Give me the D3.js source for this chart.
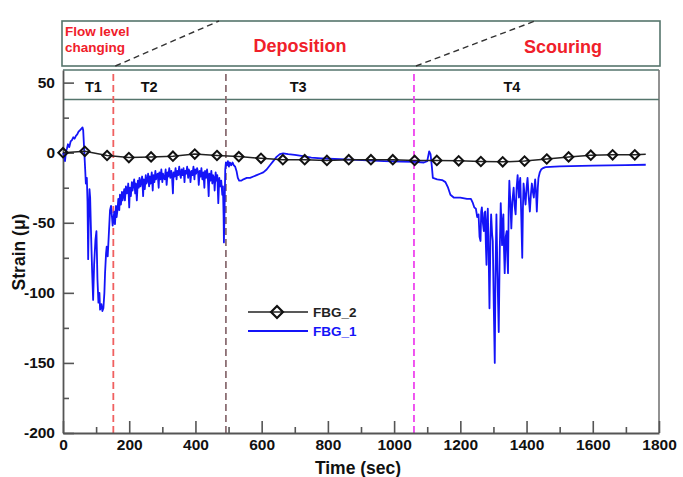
<!DOCTYPE html>
<html>
<head>
<meta charset="utf-8">
<script src="https://cdn.jsdelivr.net/npm/d3@7"></script>
<style>
  body { margin: 0; background: #fff; }
  text { font-family: "Liberation Sans", Arial, sans-serif; font-weight: bold; }
</style>
</head>
<body>
<svg id="chart" width="683" height="477"></svg>
<script>
const svg = d3.select('#chart');

// axis ticks
const xTicks = [0, 200, 400, 600, 800, 1000, 1200, 1400, 1600, 1800];
const xMinor = [100, 300, 500, 700, 900, 1100, 1300, 1500, 1700];
const yTicks = [50, 0, -50, -100, -150, -200];
const yMinor = [25, -25, -75, -125, -175];

// stage boundaries (sec) and labels
const boundaryTimes = [152, 492, 1060];
const boundaryColors = ['#f06060', '#8c6f74', '#ee44ee'];
const periodNames = ['T1', 'T2', 'T3', 'T4'];
const periodAt = [92, 260, 710, 1356];

// FBG_2 (markers)
const fbg2Time = [0, 66, 133, 199, 266, 332, 398, 465, 531, 598, 664, 730, 797, 863, 930,
  996, 1062, 1129, 1195, 1262, 1328, 1394, 1461, 1527, 1594, 1660, 1727, 1760];
const fbg2Strain = [0, 1, -2, -3.5, -3, -2.5, -1, -2, -2.8, -4, -5, -5, -5.5, -5, -5,
  -5, -5.5, -5.5, -5.8, -6.3, -6.5, -6, -4.5, -3, -1.8, -1.5, -1.5, -1.2];

// FBG_1 (continuous signal) [time, strain]
const fbg1 = [
  [0,0],[3,-2],[6,-6],[9,1],[12,3],[15,6],[19,4],[23,8],[27,9],[31,11],[35,10],[39,12],[43,13],
  [47,15],[51,16],[55,17],[59,18],[61,16],[64,2],[67,-12],[69,-22],[72,-18],[74,-35],[76,-76],
  [78,-45],[80,-26],[82,-32],[85,-60],[88,-85],[91,-105],[94,-80],[98,-62],[101,-56],[104,-90],
  [107,-107],[110,-100],[112,-112],[116,-108],[119,-113],[122,-111],[125,-100],[127,-86],[130,-72],
  [132,-67],[135,-74],[138,-60],[142,-41],[145,-38],[148,-46],[150,-52],[152,-48],
  [155,-42],[157,-51],[160,-38],[162,-46],[165,-40],[167,-33],[170,-41],[172,-30],[175,-37],
  [178,-28],[180,-34],[182,-31],[185,-26],[187,-34],[190,-24],[193,-29],[195,-27],[197,-22],
  [200,-39],[202,-25],[205,-31],[208,-21],[210,-27],[212,-24],[215,-19],[218,-29],[220,-22],
  [223,-34],[226,-20],[229,-25],[231,-18],[234,-24],[236,-21],[239,-17],[242,-31],[244,-19],
  [247,-26],[250,-16],[252,-22],[255,-20],[257,-15],[260,-24],[262,-17],[265,-22],[268,-14],
  [271,-27],[273,-16],[276,-21],[279,-13],[281,-19],[283,-16],[286,-15],[289,-25],[291,-14],
  [294,-19],[297,-12],[300,-21],[302,-15],[304,-18],[307,-19],[310,-12],[313,-23],[316,-14],
  [318,-17],[321,-11],[324,-18],[327,-13],[329,-16],[332,-29],[334,-14],[337,-17],[340,-11],
  [343,-19],[345,-13],[348,-16],[351,-10],[353,-15],[356,-18],[358,-12],[361,-16],[364,-11],
  [367,-21],[369,-13],[372,-15],[375,-10],[378,-18],[380,-12],[383,-14],[385,-21],[388,-13],
  [391,-16],[394,-10],[397,-19],[399,-12],[402,-15],[405,-11],[408,-14],[410,-23],[413,-13],
  [416,-17],[418,-11],[421,-19],[424,-14],[427,-25],[429,-13],[432,-18],[435,-12],[437,-16],
  [440,-31],[442,-15],[445,-20],[448,-13],[451,-22],[453,-16],[456,-18],[458,-27],[461,-14],
  [464,-20],[466,-16],[469,-36],[472,-18],[475,-24],[478,-20],[481,-30],[483,-24],[485,-45],
  [486,-64],[488,-40],[490,-12],
  [492,-7],[495,-9],[498,-6],[501,-10],[504,-7],[508,-9],[512,-7],[516,-9],[520,-10],[524,-13],
  [528,-18],[532,-20],[538,-20],[545,-19],[555,-18],[565,-18],[575,-17],[585,-16],[595,-15],
  [605,-14],[615,-12],[625,-9],[635,-6],[645,-3],[655,-1],[665,-0.5],[680,-1],[700,-1.5],
  [725,-2.5],[750,-3.5],[780,-4],[820,-4.5],[870,-5],[920,-5.5],[970,-6],[1020,-6.3],[1060,-6.5],
  [1090,-7],[1100,-6],[1106,1],[1110,-1],[1114,-10],[1117,-18],[1130,-19],[1145,-19.5],
  [1155,-21],[1163,-25],[1170,-30],[1180,-32],[1200,-32],[1220,-33],[1232,-33],[1238,-36],
  [1242,-39],
  [1247,-40],[1251,-46],[1255,-44],[1258,-60],[1261,-63],[1263,-42],[1265,-39],[1268,-50],
  [1271,-56],[1273,-43],[1275,-42],[1277,-65],[1279,-80],[1281,-48],[1283,-40],[1286,-80],
  [1288,-111],[1291,-60],[1293,-44],[1296,-58],[1298,-63],[1301,-110],[1304,-150],[1306,-90],
  [1309,-44],[1312,-85],[1316,-128],[1319,-70],[1322,-36],[1324,-50],[1326,-66],[1328,-50],
  [1330,-44],[1332,-70],[1334,-86],[1337,-60],[1340,-56],[1342,-75],[1344,-86],[1346,-40],
  [1348,-20],[1351,-35],[1354,-54],[1357,-35],[1361,-25],[1364,-38],[1367,-44],[1370,-25],
  [1373,-16],[1375,-24],[1377,-32],[1379,-22],[1381,-18],[1384,-45],[1387,-75],[1389,-40],
  [1391,-22],[1394,-30],[1397,-37],[1400,-25],[1403,-18],[1406,-30],[1410,-42],[1413,-30],
  [1416,-22],[1419,-28],[1422,-32],[1424,-24],[1426,-19],[1429,-30],[1431,-42],[1434,-25],
  [1436,-18],[1440,-14],[1444,-12],[1450,-11],[1457,-10.3],[1500,-9.8],[1600,-9.3],
  [1700,-8.8],[1760,-8.6]
];

const plotLeft = 63, plotRight = 659, plotTop = 70, plotBottom = 433;

const x = d3.scaleLinear().domain([0, 1800]).range([plotLeft, plotRight]);
const y = d3.scaleLinear().domain([-200, 59]).range([plotBottom, plotTop]);

const boxColor = '#55756c';

// top annotation box
svg.append('rect')
  .attr('x', plotLeft - 1).attr('y', 21)
  .attr('width', plotRight - plotLeft + 2).attr('height', 45)
  .attr('fill', 'none').attr('stroke', boxColor).attr('stroke-width', 1.6);

// dashed diagonals between stages
const diag = [[boundaryTimes[0], 219], [boundaryTimes[2], 535]];
svg.selectAll('.diag').data(diag).join('line')
  .attr('class', 'diag')
  .attr('x1', d => x(d[0]) + 2).attr('y1', 66)
  .attr('x2', d => d[1]).attr('y2', 21)
  .attr('stroke', '#333').attr('stroke-width', 1.4)
  .attr('stroke-dasharray', '6,4');

svg.append('text').attr('x', 65).attr('y', 36)
  .attr('fill', '#f0202a').attr('font-size', 13.5).text('Flow level');
svg.append('text').attr('x', 65).attr('y', 52)
  .attr('fill', '#f0202a').attr('font-size', 13.5).text('changing');
svg.append('text').attr('x', 300).attr('y', 52).attr('text-anchor', 'middle')
  .attr('fill', '#f0202a').attr('font-size', 18).text('Deposition');
svg.append('text').attr('x', 563).attr('y', 53).attr('text-anchor', 'middle')
  .attr('fill', '#f0202a').attr('font-size', 18).text('Scouring');

// plot frame (top / right / band line)
svg.append('line').attr('x1', plotLeft).attr('x2', plotRight).attr('y1', plotTop).attr('y2', plotTop)
  .attr('stroke', boxColor).attr('stroke-width', 1.6);
svg.append('line').attr('x1', plotRight).attr('x2', plotRight).attr('y1', plotTop).attr('y2', plotBottom)
  .attr('stroke', '#777').attr('stroke-width', 1.6);
svg.append('line').attr('x1', plotLeft).attr('x2', plotRight).attr('y1', y(38)).attr('y2', y(38))
  .attr('stroke', boxColor).attr('stroke-width', 1.6);

// stage boundaries
svg.selectAll('.bound').data(boundaryTimes).join('line')
  .attr('class', 'bound')
  .attr('x1', d => x(d)).attr('x2', d => x(d))
  .attr('y1', plotTop + 4).attr('y2', plotBottom)
  .attr('stroke', (d, i) => boundaryColors[i])
  .attr('stroke-width', 1.8)
  .attr('stroke-dasharray', '7,4');

svg.selectAll('.period').data(periodNames).join('text')
  .attr('class', 'period')
  .attr('x', (d, i) => x(periodAt[i])).attr('y', 92)
  .attr('text-anchor', 'middle').attr('font-size', 14.5).attr('fill', '#111')
  .text(d => d);

// axes
const fmt = d => String(d);
svg.append('g').attr('transform', `translate(0,${plotBottom})`)
  .call(d3.axisBottom(x).tickValues(xTicks).tickFormat(fmt)
    .tickSize(-12).tickSizeOuter(0).tickPadding(6));
svg.append('g').attr('transform', `translate(0,${plotBottom})`)
  .call(d3.axisBottom(x).tickValues(xMinor).tickSize(-6).tickFormat(''))
  .call(g => g.select('.domain').remove());
svg.append('g').attr('transform', `translate(${plotLeft},0)`)
  .call(d3.axisLeft(y).tickValues(yTicks).tickFormat(fmt)
    .tickSize(-11).tickSizeOuter(0).tickPadding(8));
svg.append('g').attr('transform', `translate(${plotLeft},0)`)
  .call(d3.axisLeft(y).tickValues(yMinor).tickSize(-6).tickFormat(''))
  .call(g => g.select('.domain').remove());

svg.selectAll('.domain').attr('stroke', '#555').attr('stroke-width', 1.8);
svg.selectAll('.tick line').attr('stroke', '#555').attr('stroke-width', 1.6);
svg.selectAll('.tick text').attr('font-size', 15.5).attr('fill', '#111')
  .attr('font-family', '"Liberation Sans", Arial, sans-serif').attr('font-weight', 'bold');

svg.append('text').attr('x', 358).attr('y', 474)
  .attr('text-anchor', 'middle').attr('font-size', 17.5).attr('fill', '#111')
  .text('Time (sec)');
svg.append('text').attr('transform', 'translate(25,252) rotate(-90)')
  .attr('text-anchor', 'middle').attr('font-size', 17.5).attr('fill', '#111')
  .text('Strain (\u03bc)');

// series
const line = d3.line().x(d => x(d[0])).y(d => y(d[1]));

svg.append('path').datum(fbg1)
  .attr('d', line).attr('fill', 'none')
  .attr('stroke', '#1414f8').attr('stroke-width', 1.8).attr('stroke-linejoin', 'round');

const fbg2 = fbg2Time.map((t, i) => [t, fbg2Strain[i]]);
svg.append('path').datum(fbg2)
  .attr('d', line).attr('fill', 'none')
  .attr('stroke', '#222').attr('stroke-width', 1.5);

const diamond = d3.symbol().type(d3.symbolDiamond2).size(56);
svg.selectAll('.mk').data(fbg2.slice(0, -1)).join('path')
  .attr('class', 'mk')
  .attr('transform', d => `translate(${x(d[0])},${y(d[1])})`)
  .attr('d', diamond)
  .attr('fill', 'none').attr('stroke', '#111').attr('stroke-width', 2);

// legend
const legend = svg.append('g');
legend.append('line').attr('x1', 248).attr('x2', 308).attr('y1', 312).attr('y2', 312)
  .attr('stroke', '#222').attr('stroke-width', 1.5);
legend.append('path').attr('transform', 'translate(277,312)')
  .attr('d', d3.symbol().type(d3.symbolDiamond2).size(90))
  .attr('fill', 'none').attr('stroke', '#111').attr('stroke-width', 2.2);
legend.append('text').attr('x', 313).attr('y', 317).attr('font-size', 13.5)
  .attr('fill', '#222').text('FBG_2');
legend.append('line').attr('x1', 248).attr('x2', 308).attr('y1', 331).attr('y2', 331)
  .attr('stroke', '#1414f8').attr('stroke-width', 1.8);
legend.append('text').attr('x', 313).attr('y', 336).attr('font-size', 13.5)
  .attr('fill', '#1414f8').text('FBG_1');
</script>
</body>
</html>
